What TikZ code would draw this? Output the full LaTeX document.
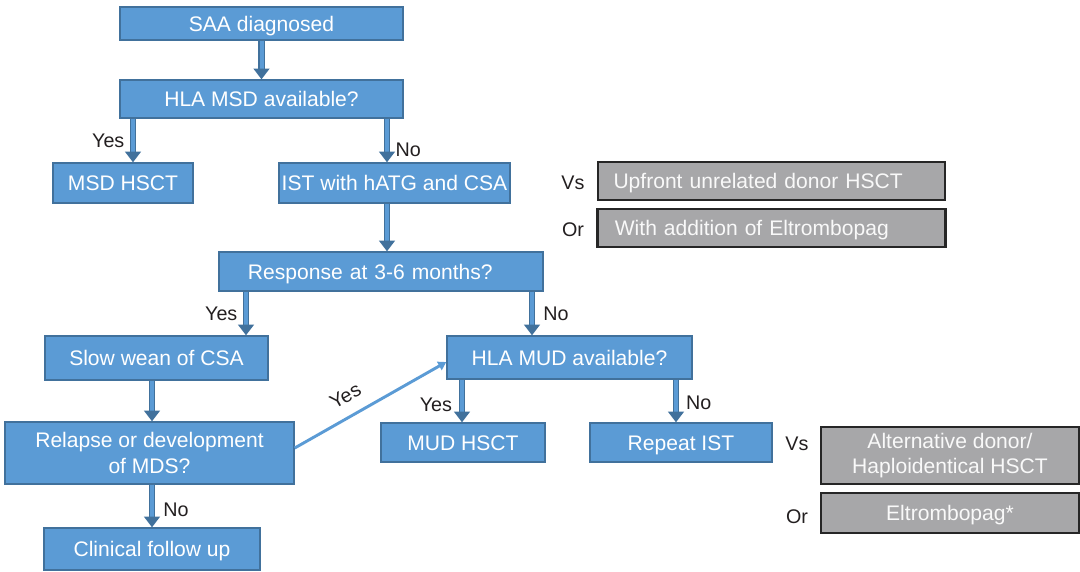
\documentclass[tikz,border=0pt]{standalone}
\usepackage{fontspec}
\setmainfont{Liberation Sans}
\usetikzlibrary{arrows.meta}
\definecolor{boxblue}{HTML}{5B9BD5}
\definecolor{edgeblue}{HTML}{41719C}
\definecolor{boxgray}{HTML}{A7A7A9}
\definecolor{inkblack}{HTML}{231F20}

\begin{document}
\begin{tikzpicture}[x=0.75pt, y=-0.75pt,
    bluebox/.style={draw=edgeblue, line width=1.1pt, fill=boxblue, text=white,
      inner sep=0pt, align=center, font=\fontsize{15.8}{19}\selectfont},
    graybox/.style={draw=black!85, line width=1.8pt, fill=boxgray, text=white!95!gray,
      inner sep=0pt, align=center, font=\fontsize{15.8}{19}\selectfont},
    stage/.style={bluebox, text height=11.4pt, text depth=0pt},
    option/.style={graybox, text height=11.4pt, text depth=0pt},
    answer/.style={text=inkblack, inner sep=2pt, font=\fontsize{14.8}{17}\selectfont},
    flow/.style={draw=edgeblue, line width=1pt, double=boxblue, double distance=3pt,
      -{Triangle[length=8pt, width=12pt]}},
    jump/.style={draw=boxblue, line width=2.2pt, -{Triangle[length=6pt, width=7pt]}}]
  \useasboundingbox (0,0) rectangle (1080,571);

  % main path
  \node[stage, minimum width=212.25pt, minimum height=24.75pt] (saa) at (261.5,23.5) {SAA diagnosed};
  \node[stage, minimum width=212.25pt, minimum height=28.5pt] (msd) at (261.5,99) {HLA MSD available?};
  \node[stage, minimum width=105pt, minimum height=30pt] (msdhsct) at (123,183) {MSD HSCT};
  \node[stage, minimum width=173.25pt, minimum height=30pt] (ist) at (394.5,183) {IST with hATG and CSA};
  \node[stage, minimum width=243pt, minimum height=29.25pt, text width=227pt, inner xsep=8pt] (resp) at (381,271.5) {Response at 3-6 months?\hspace*{16pt}};
  \node[stage, minimum width=167.25pt, minimum height=33pt] (wean) at (156.5,358) {Slow wean of CSA};
  \node[stage, minimum width=183.75pt, minimum height=32.25pt] (mud) at (569.5,357.5) {HLA MUD available?};
  \node[bluebox, minimum width=216.75pt, minimum height=46.5pt] (relapse) at (149.5,453) {Relapse or development\\of MDS?};
  \node[stage, minimum width=162pt, minimum height=31.5pt] (follow) at (152,549) {Clinical follow up};
  \node[stage, minimum width=123pt, minimum height=29.25pt] (mudhsct) at (463,442.5) {MUD HSCT};
  \node[stage, minimum width=136.5pt, minimum height=29.25pt] (repeat) at (681,442.5) {Repeat IST};

  % alternatives
  \node[option, minimum width=260.25pt, minimum height=28.5pt, text width=237pt, align=left, inner xsep=11.6pt] (upfront) at (771.5,181) {Upfront unrelated donor HSCT};
  \node[option, minimum width=260.25pt, minimum height=28.5pt, text width=235pt, align=left, inner xsep=13pt] (addeltro) at (771.5,228) {With addition of Eltrombopag};
  \node[graybox, minimum width=193.5pt, minimum height=42.75pt] (altdonor) at (950,455.5) {Alternative donor/\\Haploidentical HSCT};
  \node[option, minimum width=193.5pt, minimum height=30pt] (eltro) at (950,513) {Eltrombopag*};

  \node[answer] (vsone) at (573,183) {Vs};
  \node[answer] (orone) at (573,230) {Or};
  \node[answer] (vstwo) at (797,444) {Vs};
  \node[answer] (ortwo) at (797,517) {Or};

  % connectors
  \draw[flow] (saa) -- (msd);
  \draw[flow] (msd.south -| 133,0) -- (msdhsct.north -| 133,0) node[answer, midway, left=4pt] {Yes};
  \draw[flow] (msd.south -| 387,0) -- (ist.north -| 387,0) node[answer, pos=0.72, right=4pt] {No};
  \draw[flow] (ist.south -| 387,0) -- (resp.north -| 387,0);
  \draw[flow] (resp.south -| 246,0) -- (wean.north -| 246,0) node[answer, midway, left=4pt] {Yes};
  \draw[flow] (resp.south -| 532,0) -- (mud.north -| 532,0) node[answer, midway, right=6pt] {No};
  \draw[flow] (wean.south -| 152,0) -- (relapse.north -| 152,0);
  \draw[flow] (relapse.south -| 152,0) -- (follow.north -| 152,0) node[answer, pos=0.6, right=6pt] {No};
  \draw[flow] (mud.south -| 462,0) -- (mudhsct.north -| 462,0) node[answer, pos=0.6, left=5pt] {Yes};
  \draw[flow] (mud.south -| 676,0) -- (repeat.north -| 676,0) node[answer, pos=0.55, right=5pt] {No};
  \draw[jump] ([yshift=3.75pt]relapse.east) -- ([yshift=-3.4pt]mud.west)
    node[answer, pos=0.4, above=7pt, sloped] {Yes};
\end{tikzpicture}
\end{document}
